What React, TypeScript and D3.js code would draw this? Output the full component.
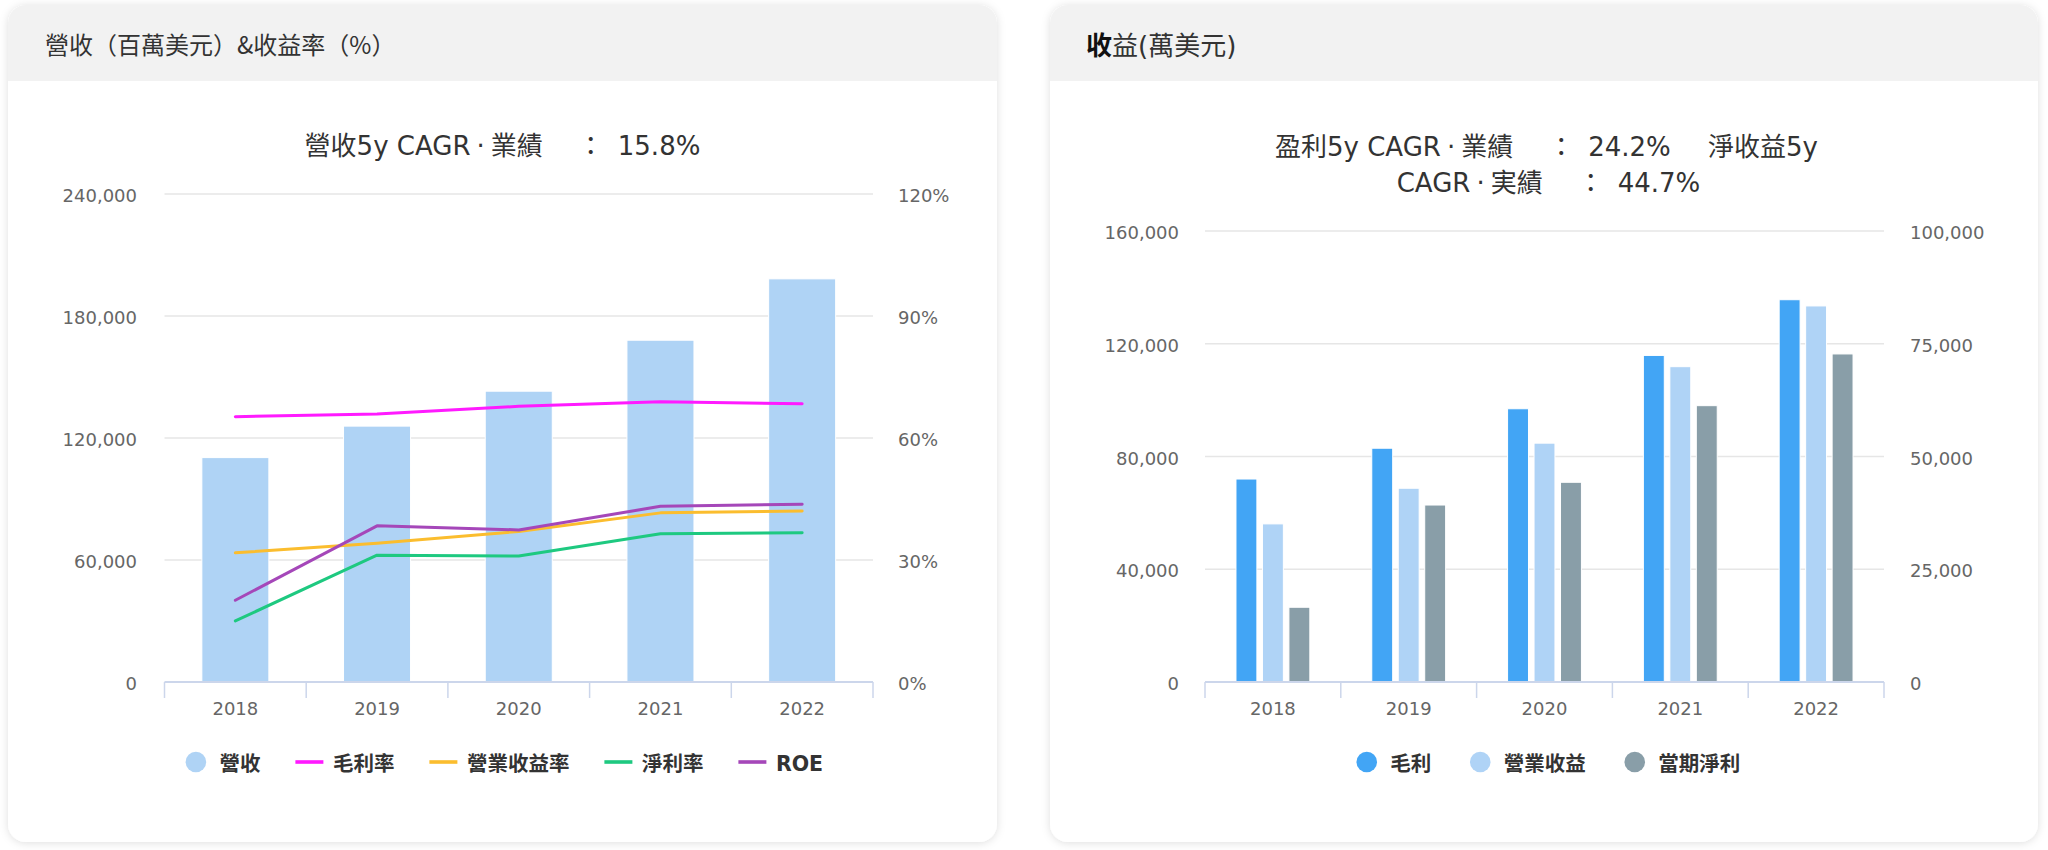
import React, { useEffect, useRef } from 'react';
import * as d3 from 'd3';

// ---------- data ----------
const years = ['2018', '2019', '2020', '2021', '2022'];

// left chart: revenue (million USD) and margins (%)
const revenue = [110360, 125843, 143015, 168088, 198270];
const grossMargin = [65.25, 65.9, 67.78, 68.93, 68.4];
const operatingMargin = [31.77, 34.14, 37.03, 41.59, 42.06];
const netMargin = [15.02, 31.18, 30.96, 36.45, 36.69];
const roe = [20.1, 38.4, 37.4, 43.2, 43.7];

const leftTicks = [0, 60000, 120000, 180000, 240000];
const rightPctTicks = [0, 30, 60, 90, 120];

// right chart: profits (10k USD)
const grossProfit = [72007, 82933, 96937, 115856, 135620];
const operatingIncome = [35058, 42959, 52959, 69916, 83383];
const netIncome = [16571, 39240, 44281, 61271, 72738];

const left2Ticks = [0, 40000, 80000, 120000, 160000];
const right2Ticks = [0, 25000, 50000, 75000, 100000];

const W = 2048;
const H = 850;
const tickFont = '"DejaVu Sans", Verdana, sans-serif';
const cjkFont = '"Noto Sans CJK TC", "Noto Sans CJK SC", sans-serif';
const titleFont = '"DejaVu Sans", "Noto Sans CJK TC", sans-serif';

const C = {
  revenue: '#afd3f5',
  gross: '#ff1aff',
  op: '#fbbd2e',
  net: '#1ec980',
  roe: '#a547b9',
  gp: '#42a5f5',
  oi: '#afd3f6',
  ni: '#899ea8',
  grid: '#e6e6e6',
  axis: '#ccd6eb',
  label: '#666666',
  text: '#333333',
};

type Seg = { t: string; dx?: number };

export default function App() {
  const ref = useRef<SVGSVGElement>(null);

  useEffect(() => {
    const svg = d3.select(ref.current as SVGSVGElement);
    svg.selectAll('*').remove();
    const defs = svg.append('defs');
    const f = defs
      .append('filter')
      .attr('id', 'shadow')
      .attr('x', '-5%')
      .attr('y', '-5%')
      .attr('width', '110%')
      .attr('height', '110%');
    f.append('feDropShadow')
      .attr('dx', 0)
      .attr('dy', 1)
      .attr('stdDeviation', 4)
      .attr('flood-color', '#000')
      .attr('flood-opacity', 0.13);

    const card = (x: number, y: number, w: number, h: number, id: string) => {
      const g = svg.append('g');
      g.append('rect')
        .attr('x', x)
        .attr('y', y)
        .attr('width', w)
        .attr('height', h)
        .attr('rx', 18)
        .attr('fill', '#fff')
        .attr('filter', 'url(#shadow)');
      defs
        .append('clipPath')
        .attr('id', id)
        .append('rect')
        .attr('x', x)
        .attr('y', y)
        .attr('width', w)
        .attr('height', h)
        .attr('rx', 18);
      g.append('rect')
        .attr('clip-path', `url(#${id})`)
        .attr('x', x)
        .attr('y', y)
        .attr('width', w)
        .attr('height', 76)
        .attr('fill', '#f2f2f2');
      return g;
    };

    const title = (
      g: d3.Selection<SVGGElement, unknown, null, undefined>,
      cx: number,
      y: number,
      segs: Seg[]
    ) => {
      const t = g
        .append('text')
        .attr('x', cx)
        .attr('y', y)
        .attr('text-anchor', 'middle')
        .attr('font-family', titleFont)
        .attr('font-size', 26)
        .attr('fill', C.text);
      segs.forEach((s) => {
        const ts = t.append('tspan').text(s.t);
        if (s.dx) ts.attr('dx', s.dx);
      });
    };

    const legend = (
      cx: number,
      cy: number,
      items: { kind: 'circle' | 'line'; color: string; label: string }[]
    ) => {
      const g = svg.append('g');
      let x = 0;
      items.forEach((it) => {
        if (it.kind === 'circle') {
          g.append('circle').attr('cx', x + 14).attr('cy', cy).attr('r', 10.3).attr('fill', it.color);
        } else {
          g.append('rect')
            .attr('x', x)
            .attr('y', cy - 1.8)
            .attr('width', 28)
            .attr('height', 3.6)
            .attr('fill', it.color);
        }
        const t = g
          .append('text')
          .attr('x', x + 37.5)
          .attr('y', cy + 8.5)
          .attr('font-family', titleFont)
          .attr('font-weight', 'bold')
          .attr('font-size', 20.5)
          .attr('fill', C.text)
          .text(it.label);
        const tw = (t.node() as SVGTextElement).getComputedTextLength();
        x += 37.5 + tw + 35;
      });
      const total = x - 35;
      g.attr('transform', `translate(${cx - total / 2},0)`);
    };

    const drawAxes = (
      g: d3.Selection<SVGGElement, unknown, null, undefined>,
      yL: d3.ScaleLinear<number, number>,
      yR: d3.ScaleLinear<number, number>,
      lTicks: number[],
      rTicks: number[],
      lFmt: (v: number) => string,
      rFmt: (v: number) => string,
      plotL: number,
      plotR: number,
      lLabelX: number,
      rLabelX: number
    ) => {
      lTicks.forEach((t) => {
        if (t === 0) return;
        g.append('line')
          .attr('x1', plotL)
          .attr('x2', plotR)
          .attr('y1', yL(t))
          .attr('y2', yL(t))
          .attr('stroke', C.grid)
          .attr('stroke-width', 1.5);
      });
      lTicks.forEach((t) => {
        g.append('text')
          .attr('x', lLabelX)
          .attr('y', yL(t) + 8)
          .attr('text-anchor', 'end')
          .attr('font-family', tickFont)
          .attr('font-size', 18)
          .attr('fill', C.label)
          .text(lFmt(t));
      });
      rTicks.forEach((t) => {
        g.append('text')
          .attr('x', rLabelX)
          .attr('y', yR(t) + 8)
          .attr('text-anchor', 'start')
          .attr('font-family', tickFont)
          .attr('font-size', 18)
          .attr('fill', C.label)
          .text(rFmt(t));
      });
    };

    const drawXAxis = (
      g: d3.Selection<SVGGElement, unknown, null, undefined>,
      xBand: d3.ScaleBand<string>,
      y0: number
    ) => {
      g.append('line')
        .attr('x1', xBand.range()[0])
        .attr('x2', xBand.range()[1])
        .attr('y1', y0)
        .attr('y2', y0)
        .attr('stroke', C.axis)
        .attr('stroke-width', 2);
      const edges = years.map((yr) => xBand(yr) as number).concat([xBand.range()[1]]);
      edges.forEach((ex) => {
        g.append('line')
          .attr('x1', ex)
          .attr('x2', ex)
          .attr('y1', y0)
          .attr('y2', y0 + 16)
          .attr('stroke', C.axis)
          .attr('stroke-width', 1.5);
      });
      years.forEach((yr) => {
        g.append('text')
          .attr('x', (xBand(yr) as number) + xBand.bandwidth() / 2)
          .attr('y', y0 + 33)
          .attr('text-anchor', 'middle')
          .attr('font-family', tickFont)
          .attr('font-size', 18)
          .attr('fill', C.label)
          .text(yr);
      });
    };

    const fmtNum = d3.format(',');

    // ---------------- left card ----------------
    const g1 = card(8, 5, 989, 837, 'clip1');
    g1.append('text')
      .attr('x', 45)
      .attr('y', 54)
      .attr('font-family', cjkFont)
      .attr('font-size', 24)
      .attr('fill', C.text)
      .text('營收（百萬美元）&收益率（%）');

    title(g1, 502.5, 155, [
      { t: '營收5y CAGR' },
      { t: '·', dx: 6 },
      { t: '業績', dx: 6 },
      { t: '：', dx: 35 },
      { t: '15.8%', dx: 14 },
    ]);

    const p1L = 164.5,
      p1R = 873,
      p1T = 194,
      p1B = 682;
    const x1 = d3.scaleBand<string>().domain(years).range([p1L, p1R]).padding(0);
    const y1 = d3.scaleLinear().domain([0, 240000]).range([p1B, p1T]);
    const y1r = d3.scaleLinear().domain([0, 120]).range([p1B, p1T]);

    drawAxes(g1, y1, y1r, leftTicks, rightPctTicks, (v) => fmtNum(v), (v) => `${v}%`, p1L, p1R, 137, 898);

    const bw1 = x1.bandwidth() * 0.473;
    g1.append('g')
      .selectAll('rect')
      .data(revenue)
      .join('rect')
      .attr('x', (_d, i) => (x1(years[i]) as number) + x1.bandwidth() / 2 - bw1 / 2)
      .attr('y', (d) => y1(d))
      .attr('width', bw1)
      .attr('height', (d) => p1B - y1(d))
      .attr('fill', C.revenue)
      .attr('stroke', '#fff')
      .attr('stroke-width', 1);

    const lineGen = d3
      .line<number>()
      .x((_d, i) => (x1(years[i]) as number) + x1.bandwidth() / 2)
      .y((d) => y1r(d));
    const lineSeries: [number[], string][] = [
      [grossMargin, C.gross],
      [operatingMargin, C.op],
      [netMargin, C.net],
      [roe, C.roe],
    ];
    lineSeries.forEach(([vals, col]) => {
      g1.append('path')
        .attr('d', lineGen(vals) as string)
        .attr('fill', 'none')
        .attr('stroke', col)
        .attr('stroke-width', 3)
        .attr('stroke-linejoin', 'round')
        .attr('stroke-linecap', 'round');
    });
    drawXAxis(g1, x1, p1B);

    legend(502.5, 762, [
      { kind: 'circle', color: C.revenue, label: '營收' },
      { kind: 'line', color: C.gross, label: '毛利率' },
      { kind: 'line', color: C.op, label: '營業收益率' },
      { kind: 'line', color: C.net, label: '淨利率' },
      { kind: 'line', color: C.roe, label: 'ROE' },
    ]);

    // ---------------- right card ----------------
    const g2 = card(1050, 5, 988, 837, 'clip2');
    const h2 = g2
      .append('text')
      .attr('x', 1086)
      .attr('y', 55)
      .attr('font-family', titleFont)
      .attr('font-size', 26)
      .attr('fill', '#111');
    h2.append('tspan').attr('font-weight', 'bold').text('收');
    h2.append('tspan').attr('fill', C.text).text('益(萬美元)');

    title(g2, 1546.5, 156, [
      { t: '盈利5y CAGR' },
      { t: '·', dx: 6 },
      { t: '業績', dx: 6 },
      { t: '：', dx: 35 },
      { t: '24.2%', dx: 14 },
      { t: ' 淨收益5y', dx: 29 },
    ]);
    title(g2, 1548.5, 192, [
      { t: 'CAGR' },
      { t: '·', dx: 6 },
      { t: '実績', dx: 6 },
      { t: '：', dx: 35 },
      { t: '44.7%', dx: 14 },
    ]);

    const p2L = 1205,
      p2R = 1884,
      p2T = 231,
      p2B = 682;
    const x2 = d3.scaleBand<string>().domain(years).range([p2L, p2R]).padding(0);
    const y2 = d3.scaleLinear().domain([0, 160000]).range([p2B, p2T]);
    const y2r = d3.scaleLinear().domain([0, 100000]).range([p2B, p2T]);
    const inner = d3
      .scaleBand<number>()
      .domain([0, 1, 2])
      .range([0, x2.bandwidth()])
      .paddingInner(0.21)
      .paddingOuter(1.17);

    drawAxes(g2, y2, y2r, left2Ticks, right2Ticks, (v) => fmtNum(v), (v) => fmtNum(v), p2L, p2R, 1179, 1910);

    const barSeries: [number[], string, d3.ScaleLinear<number, number>][] = [
      [grossProfit, C.gp, y2],
      [operatingIncome, C.oi, y2r],
      [netIncome, C.ni, y2r],
    ];
    barSeries.forEach(([vals, col, ys], si) => {
      g2.append('g')
        .selectAll('rect')
        .data(vals)
        .join('rect')
        .attr('x', (_d, i) => (x2(years[i]) as number) + (inner(si) as number))
        .attr('y', (d) => ys(d))
        .attr('width', inner.bandwidth())
        .attr('height', (d) => p2B - ys(d))
        .attr('fill', col)
        .attr('stroke', '#fff')
        .attr('stroke-width', 1);
    });
    drawXAxis(g2, x2, p2B);

    legend(1546.5, 762, [
      { kind: 'circle', color: C.gp, label: '毛利' },
      { kind: 'circle', color: C.oi, label: '營業收益' },
      { kind: 'circle', color: C.ni, label: '當期淨利' },
    ]);
  }, []);

  return (
    <svg
      ref={ref}
      width={W}
      height={H}
      style={{ position: 'absolute', left: 0, top: 0, display: 'block', background: '#fff' }}
    />
  );
}
